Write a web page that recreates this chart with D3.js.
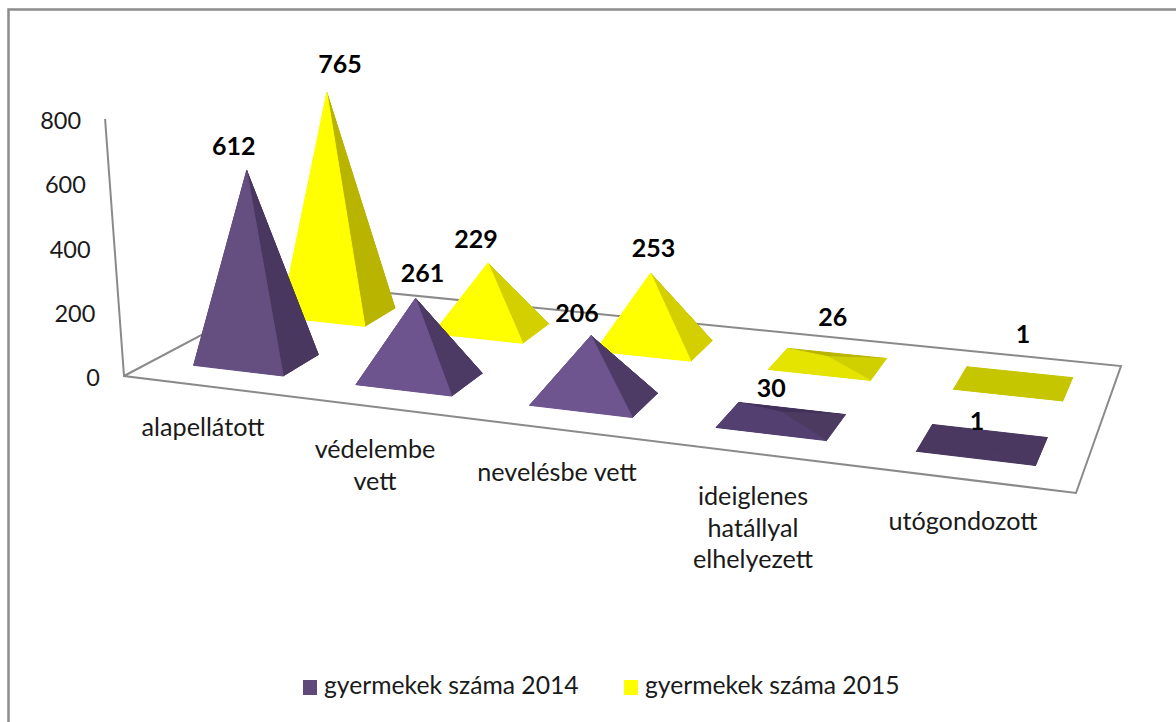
<!DOCTYPE html>
<html><head><meta charset="utf-8">
<script src="https://cdn.jsdelivr.net/npm/d3@7"></script>
<style>html,body{margin:0;padding:0;background:#fff}svg{display:block}text{font-family:Lato,sans-serif;fill:#1a1a1a}</style>
</head><body><svg id="c" width="1176" height="722"></svg>
<script>
const categories = ["alapellátott","védelembe vett","nevelésbe vett","ideiglenes hatállyal elhelyezett","utógondozott"];
const categoryLines = [["alapellátott"],["védelembe","vett"],["nevelésbe vett"],["ideiglenes","hatállyal","elhelyezett"],["utógondozott"]];
const seriesNames = ["gyermekek száma 2014","gyermekek száma 2015"];
const values2014 = [612,261,206,30,1];
const values2015 = [765,229,253,26,1];
const yTicks = [0,200,400,600,800];

const svg = d3.select("#c");
const Q = {fl:[124,376], fr:[1076,493], br:[1121,366], bl:[298,284]};
function solve(){
  const [x0,y0]=Q.fl,[x1,y1]=Q.fr,[x2,y2]=Q.br,[x3,y3]=Q.bl;
  const dx1=x1-x2,dx2=x3-x2,sx=x0-x1+x2-x3,dy1=y1-y2,dy2=y3-y2,sy=y0-y1+y2-y3;
  const den=dx1*dy2-dx2*dy1;
  const g=(sx*dy2-dx2*sy)/den,h=(dx1*sy-sx*dy1)/den;
  return {a:x1-x0+g*x1,b:x3-x0+h*x3,c:x0,d:y1-y0+g*y1,e:y3-y0+h*y3,f:y0,g,h};
}
const H=solve();
const proj=(s,t)=>{const w=H.g*s+H.h*t+1;return [(H.a*s+H.b*t+H.c)/w,(H.d*s+H.e*t+H.f)/w];};
const uScale=d3.scaleBand().domain(d3.range(categories.length)).range([0.008,1]);
const vScale=d3.scaleBand().domain([0,1]).range([0,1]);
const heightPx=d3.scaleLinear().domain([0,800]).range([0,236]);
const depthFactor=d3.scaleOrdinal().domain([0,1]).range([1.05,0.975]);
const axisY=d3.scaleLinear().domain([0,800]).range([376,119]);
const wallX=y=>124+(y-376)*0.0736;
const LEAN=-0.052, BW=0.56, BD=0.41;

const shade={
 0:{front:d3.scaleLinear().domain([1,30,206,612]).range(["#4a3860","#533f70","#6e5590","#654f80"]),
    right:d3.scaleLinear().domain([1,30,206,612]).range(["#4a3860","#4c3a60","#4d3b66","#49375f"]),
    back:d3.scaleLinear().domain([1,30,612]).range(["#4a3860","#40305a","#40305a"])},
 1:{front:d3.scaleLinear().domain([1,26,229]).range(["#c6c600","#e4e400","#ffff00"]).clamp(true),
    right:d3.scaleLinear().domain([1,26,229,765]).range(["#c6c600","#d0d000","#d4d000","#b8b400"]),
    back:d3.scaleLinear().domain([1,26,765]).range(["#c6c600","#b8b400","#b8b400"])}
};
const line=d3.line();
svg.append("path").attr("d",line([[8.5,722],[8.5,9.5],[1176,9.5]])).attr("fill","none").attr("stroke","#8c8c8c").attr("stroke-width",2.5);
const g=svg.append("g").attr("fill","none").attr("stroke","#8a8a8a").attr("stroke-width",2);
g.append("path").attr("d",line([[wallX(axisY(800)),axisY(800)],Q.fl,Q.fr,Q.br,Q.bl,Q.fl]));
svg.append("g").selectAll("text").data(yTicks).join("text")
  .attr("x",d=>wallX(axisY(d))-24).attr("y",d=>axisY(d)+10).attr("text-anchor","end").attr("font-size",23.5).text(d=>d);
const labelOffset=[[[-13,-24],[7,-24],[-14,-22],[-10,-23],[-6,-22]],[[13,-28],[-12,-23],[3,-24],[5,-39],[9,-48]]];
const labels=[];
[1,0].forEach(k=>{
  const vals=k?values2015:values2014;
  vals.forEach((val,i)=>{
    const uc=uScale(i)+uScale.bandwidth()/2, vc=vScale(k)+vScale.bandwidth()/2;
    const du=uScale.bandwidth()*BW/2, dv=vScale.bandwidth()*BD/2;
    const FL=proj(uc-du,vc-dv),FR=proj(uc+du,vc-dv),R=proj(uc+du,vc+dv),BL=proj(uc-du,vc+dv);
    const cx=(FL[0]+FR[0]+R[0]+BL[0])/4,cy=(FL[1]+FR[1]+R[1]+BL[1])/4;
    const h=heightPx(val)*depthFactor(k);
    const A=[cx+LEAN*h,cy-h];
    const s=shade[k];
    const faces=[[BL,R,A,s.back(val)],[FL,BL,A,s.front(val)],[FR,R,A,s.right(val)],[FL,FR,A,s.front(val)]];
    const gp=svg.append("g");
    gp.append("path").attr("d",line([FL,FR,R,BL])+"Z").attr("fill",s.front(val));
    faces.forEach(f=>gp.append("path").attr("d",line(f.slice(0,3))+"Z").attr("fill",f[3]).attr("stroke",f[3]).attr("stroke-width",1));
    labels.push({x:A[0]+labelOffset[k][i][0],y:A[1]+labelOffset[k][i][1],val});
  });
});
svg.append("g").selectAll("text").data(labels).join("text")
  .attr("x",d=>d.x).attr("y",d=>d.y+8).attr("text-anchor","middle").attr("font-size",25).attr("font-weight",700).style("fill","#000").text(d=>d.val);
const catX=[203,375,557,753,963], catY=[428,450,473,497,522], lineH=31.5;
categoryLines.forEach((ls,i)=>{
  ls.forEach((t,j)=>svg.append("text").attr("x",catX[i]).attr("y",catY[i]+j*lineH+8).attr("text-anchor","middle").attr("font-size",25.2).text(t));
});
const legX=[303,624], txtX=[324,645];
const legColor=["#5f497a","#ffff00"];
seriesNames.forEach((n,k)=>{
  svg.append("rect").attr("x",legX[k]).attr("y",680).attr("width",14).attr("height",15).attr("fill",legColor[k]);
  svg.append("text").attr("x",txtX[k]).attr("y",694).attr("font-size",24.7).text(n);
});
</script></body></html>
